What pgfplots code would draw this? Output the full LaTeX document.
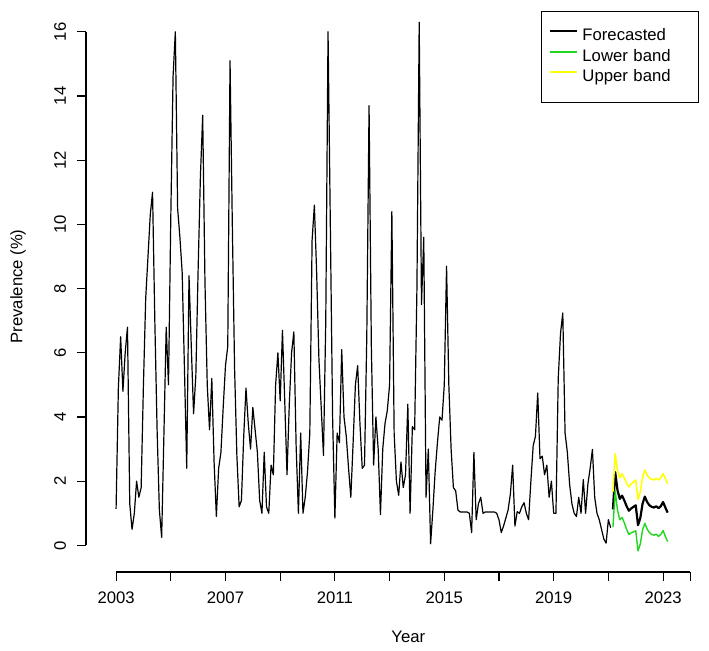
\documentclass[border=0pt]{standalone}
\usepackage{pgfplots}
\pgfplotsset{compat=1.18}
\usepackage{pgfplotstable}
\usepackage{fontspec}
\setmainfont{Liberation Sans}

\definecolor{rgreen}{RGB}{30,215,30}
\definecolor{ryellow}{RGB}{255,255,0}
\newcommand{\rfont}{\fontsize{8.35bp}{10bp}\selectfont}

% monthly prevalence, January 2003 to February 2021
\pgfplotstableread[row sep=\\]{
yr mo v\\
2003 1 1.14\\ 2003 2 4.9\\ 2003 3 6.5\\ 2003 4 4.8\\ 2003 5 6.0\\ 2003 6 6.8\\ 2003 7 1.3\\ 2003 8 0.5\\ 2003 9 1.0\\ 2003 10 2.0\\ 2003 11 1.5\\ 2003 12 1.8\\
2004 1 5.0\\ 2004 2 7.7\\ 2004 3 9.0\\ 2004 4 10.3\\ 2004 5 11.0\\ 2004 6 7.0\\ 2004 7 3.6\\ 2004 8 1.1\\ 2004 9 0.25\\ 2004 10 3.5\\ 2004 11 6.8\\ 2004 12 5.0\\
2005 1 10.2\\ 2005 2 14.6\\ 2005 3 16.0\\ 2005 4 10.5\\ 2005 5 9.6\\ 2005 6 8.5\\ 2005 7 5.5\\ 2005 8 2.4\\ 2005 9 8.4\\ 2005 10 6.2\\ 2005 11 4.1\\ 2005 12 5.3\\
2006 1 8.6\\ 2006 2 11.5\\ 2006 3 13.4\\ 2006 4 8.2\\ 2006 5 5.0\\ 2006 6 3.6\\ 2006 7 5.2\\ 2006 8 2.6\\ 2006 9 0.9\\ 2006 10 2.4\\ 2006 11 2.9\\ 2006 12 4.3\\
2007 1 5.6\\ 2007 2 6.2\\ 2007 3 15.1\\ 2007 4 10.0\\ 2007 5 5.5\\ 2007 6 2.8\\ 2007 7 1.2\\ 2007 8 1.4\\ 2007 9 3.4\\ 2007 10 4.9\\ 2007 11 3.8\\ 2007 12 3.0\\
2008 1 4.3\\ 2008 2 3.6\\ 2008 3 2.9\\ 2008 4 1.4\\ 2008 5 1.0\\ 2008 6 2.9\\ 2008 7 1.2\\ 2008 8 1.0\\ 2008 9 2.5\\ 2008 10 2.2\\ 2008 11 5.0\\ 2008 12 6.0\\
2009 1 4.5\\ 2009 2 6.7\\ 2009 3 4.5\\ 2009 4 2.2\\ 2009 5 4.4\\ 2009 6 6.0\\ 2009 7 6.65\\ 2009 8 3.1\\ 2009 9 1.0\\ 2009 10 3.5\\ 2009 11 1.0\\ 2009 12 1.5\\
2010 1 2.3\\ 2010 2 3.5\\ 2010 3 9.5\\ 2010 4 10.6\\ 2010 5 8.5\\ 2010 6 5.8\\ 2010 7 4.3\\ 2010 8 2.8\\ 2010 9 7.0\\ 2010 10 16.0\\ 2010 11 10.0\\ 2010 12 4.0\\
2011 1 0.85\\ 2011 2 3.5\\ 2011 3 3.2\\ 2011 4 6.1\\ 2011 5 4.0\\ 2011 6 3.4\\ 2011 7 2.4\\ 2011 8 1.5\\ 2011 9 3.2\\ 2011 10 5.0\\ 2011 11 5.6\\ 2011 12 3.8\\
2012 1 2.4\\ 2012 2 2.5\\ 2012 3 6.5\\ 2012 4 13.7\\ 2012 5 6.2\\ 2012 6 2.5\\ 2012 7 4.0\\ 2012 8 3.0\\ 2012 9 0.96\\ 2012 10 3.0\\ 2012 11 3.8\\ 2012 12 4.2\\
2013 1 5.0\\ 2013 2 10.4\\ 2013 3 3.5\\ 2013 4 2.0\\ 2013 5 1.56\\ 2013 6 2.6\\ 2013 7 1.8\\ 2013 8 2.2\\ 2013 9 4.4\\ 2013 10 1.0\\ 2013 11 3.7\\ 2013 12 3.6\\
2014 1 8.0\\ 2014 2 16.3\\ 2014 3 7.5\\ 2014 4 9.6\\ 2014 5 1.5\\ 2014 6 3.0\\ 2014 7 0.05\\ 2014 8 1.1\\ 2014 9 2.3\\ 2014 10 3.2\\ 2014 11 4.0\\ 2014 12 3.9\\
2015 1 5.0\\ 2015 2 8.7\\ 2015 3 5.0\\ 2015 4 3.0\\ 2015 5 1.8\\ 2015 6 1.7\\ 2015 7 1.1\\ 2015 8 1.04\\ 2015 9 1.04\\ 2015 10 1.04\\ 2015 11 1.04\\ 2015 12 1.0\\
2016 1 0.4\\ 2016 2 2.9\\ 2016 3 0.8\\ 2016 4 1.3\\ 2016 5 1.5\\ 2016 6 1.0\\ 2016 7 1.04\\ 2016 8 1.04\\ 2016 9 1.04\\ 2016 10 1.04\\ 2016 11 1.04\\ 2016 12 1.0\\
2017 1 0.8\\ 2017 2 0.4\\ 2017 3 0.6\\ 2017 4 0.85\\ 2017 5 1.1\\ 2017 6 1.6\\ 2017 7 2.5\\ 2017 8 0.6\\ 2017 9 1.05\\ 2017 10 1.0\\ 2017 11 1.2\\ 2017 12 1.33\\
2018 1 1.0\\ 2018 2 0.8\\ 2018 3 2.0\\ 2018 4 3.1\\ 2018 5 3.4\\ 2018 6 4.75\\ 2018 7 2.7\\ 2018 8 2.78\\ 2018 9 2.2\\ 2018 10 2.5\\ 2018 11 1.5\\ 2018 12 2.0\\
2019 1 1.0\\ 2019 2 1.0\\ 2019 3 5.2\\ 2019 4 6.6\\ 2019 5 7.24\\ 2019 6 3.5\\ 2019 7 2.9\\ 2019 8 1.9\\ 2019 9 1.3\\ 2019 10 1.0\\ 2019 11 0.9\\ 2019 12 1.5\\
2020 1 1.0\\ 2020 2 2.05\\ 2020 3 1.0\\ 2020 4 1.9\\ 2020 5 2.4\\ 2020 6 2.99\\ 2020 7 1.5\\ 2020 8 1.0\\ 2020 9 0.8\\ 2020 10 0.5\\ 2020 11 0.2\\ 2020 12 0.07\\
2021 1 0.8\\ 2021 2 0.55\\
}\observed

% forecast with lower and upper bands, March 2021 to March 2023
\pgfplotstableread[row sep=\\]{
yr mo fc lo hi\\
2021 3 1.12 0.57 1.67\\ 2021 4 2.28 1.70 2.86\\ 2021 5 1.72 1.10 2.34\\ 2021 6 1.45 0.80 2.10\\
2021 7 1.55 0.87 2.23\\ 2021 8 1.40 0.70 2.10\\ 2021 9 1.22 0.50 1.94\\ 2021 10 1.08 0.34 1.82\\
2021 11 1.15 0.39 1.91\\ 2021 12 1.20 0.42 1.98\\ 2022 1 1.25 0.46 2.04\\ 2022 2 0.63 -0.17 1.43\\
2022 3 0.85 0.04 1.66\\ 2022 4 1.30 0.48 2.12\\ 2022 5 1.52 0.69 2.35\\ 2022 6 1.35 0.51 2.19\\
2022 7 1.25 0.40 2.10\\ 2022 8 1.20 0.34 2.06\\ 2022 9 1.18 0.32 2.04\\ 2022 10 1.22 0.35 2.09\\
2022 11 1.16 0.28 2.04\\ 2022 12 1.22 0.34 2.10\\ 2023 1 1.35 0.46 2.24\\ 2023 2 1.18 0.28 2.08\\
2023 3 1.02 0.12 1.92\\
}\forecast

\begin{document}
\begin{tikzpicture}
\useasboundingbox (-43bp,-39.5bp) rectangle (311.5bp,286bp);
\begin{axis}[
  scale only axis,
  width=307bp, height=285.5bp,
  xmin=2001.90, xmax=2024.35,
  ymin=-0.829, ymax=16.959,
  clip=false,
  axis line style={draw=none},
  tick pos=left, tick align=outside,
  major tick length=4.5bp,
  tick style={black, line width=0.55bp},
  xtick={2003,2005,2007,2009,2011,2013,2015,2017,2019,2021,2023,2024},
  xticklabels={2003,,2007,,2011,,2015,,2019,,2023,},
  ytick={0,2,4,6,8,10,12,14,16},
  yticklabels={0,2,4,6,8,10,12,14,16},
  ticklabel style={font=\rfont},
  xticklabel style={anchor=center},
  yticklabel style={rotate=90, anchor=center},
  xticklabel shift=8.5bp,
  yticklabel shift=8.5bp,
  label style={font=\rfont},
  xlabel={Year},
  ylabel={Prevalence (\%)},
  xlabel style={at={(axis description cs:0.525,-0.1138)}, anchor=center},
  ylabel style={at={(axis description cs:-0.1107,0.5)}, anchor=center},
  legend style={
    at={(rel axis cs:1,1)}, anchor=north east, xshift=-0.5bp, yshift=-5bp,
    draw=black, line width=0.55bp, fill=white,
    inner xsep=4bp, inner ysep=8.5bp,
    row sep=2.2bp, column sep=2bp,
    font=\rfont,
    nodes={inner sep=0pt, text height=6.2bp, text depth=1.8bp},
    /tikz/every even column/.append style={text width=54bp},
  },
  legend cell align=left,
  legend image code/.code={\draw[#1, line width=1bp] (0bp,0.5ex) -- (13.5bp,0.5ex);},
]
\addplot[black, line width=0.6bp, line join=round, mark=none]
  table[x expr={\thisrow{yr}+(\thisrow{mo}-1)/12}, y=v] {\observed};
\addlegendentry{Forecasted}
\addplot[black, line width=1.1bp, line join=round, mark=none, forget plot]
  table[x expr={\thisrow{yr}+(\thisrow{mo}-1)/12}, y=fc] {\forecast};
\addplot[rgreen, line width=0.7bp, line join=round, mark=none]
  table[x expr={\thisrow{yr}+(\thisrow{mo}-1)/12}, y=lo] {\forecast};
\addlegendentry{Lower band}
\addplot[ryellow, line width=0.75bp, line join=round, mark=none]
  table[x expr={\thisrow{yr}+(\thisrow{mo}-1)/12}, y=hi] {\forecast};
\addlegendentry{Upper band}

% axis lines span only the first to the last tick
\draw[line width=0.55bp] (axis cs:2003,-0.829) -- (axis cs:2024,-0.829);
\draw[line width=0.55bp] (axis cs:2001.90,0) -- (axis cs:2001.90,16);
\end{axis}
\end{tikzpicture}
\end{document}
